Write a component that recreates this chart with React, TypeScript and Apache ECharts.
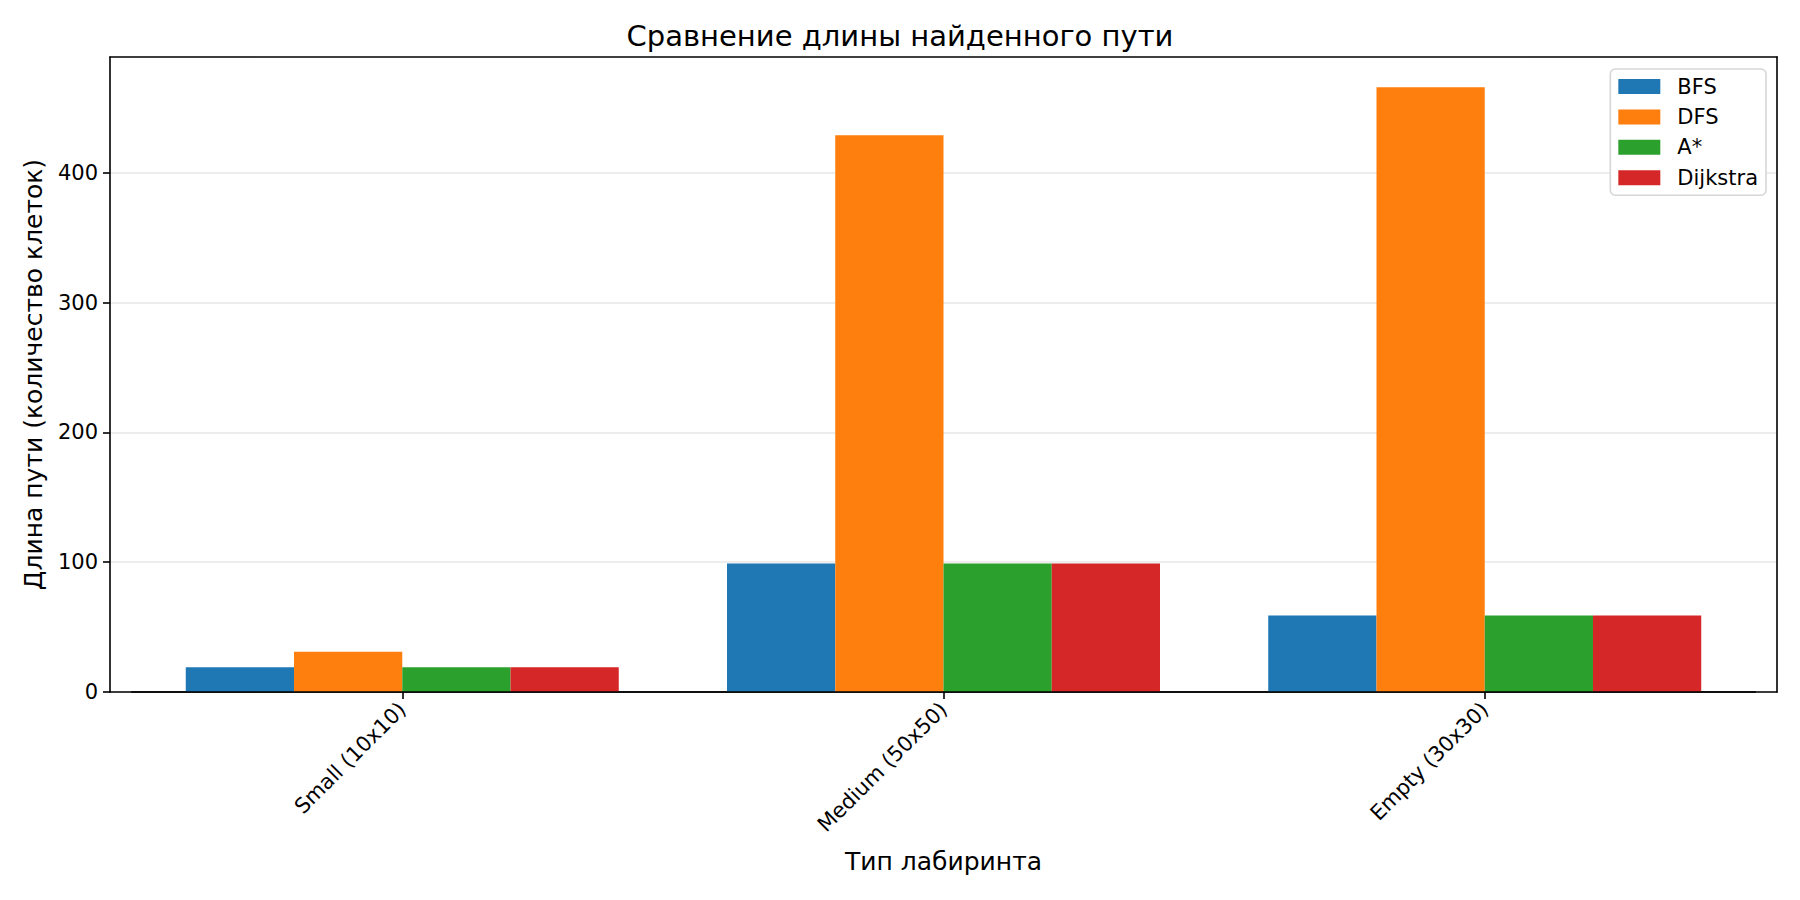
import React, { useEffect, useRef } from "react";
import * as echarts from "echarts";

const categories = ["Small (10x10)", "Medium (50x50)", "Empty (30x30)"];
const seriesNames = ["BFS", "DFS", "A*", "Dijkstra"];
const bfsValues = [19, 99, 59];
const dfsValues = [31, 429, 466];
const astarValues = [19, 99, 59];
const dijkstraValues = [19, 99, 59];
const colors = ["#1f77b4", "#ff7f0e", "#2ca02c", "#d62728"];
const yMax = 489.3;
const yTickMax = 400;

const FONT = "DejaVu Sans";

export default function App() {
  const ref = useRef<HTMLDivElement>(null);
  useEffect(() => {
    if (!ref.current) return;
    const chart = echarts.init(ref.current, null, { renderer: "svg" });
    const frameLeft = 110;
    const frameTop = 57;
    const frameW = 1667;
    const frameH = 635;
    const frameBottom = frameTop + frameH;
    const unit = frameW / 3.08;
    const innerLeft = frameLeft + 0.04 * unit;
    const innerW = 3 * unit;
    const tickH = (frameH * yTickMax) / yMax;
    const allValues = [bfsValues, dfsValues, astarValues, dijkstraValues];
    const frameLine = { show: true, onZero: false, lineStyle: { color: "#000", width: 1.6 } };
    const hidden = { show: false };
    const frameX = (position: string) => ({
      gridIndex: 0,
      type: "value",
      min: 0,
      max: 1,
      position,
      z: 5,
      axisLine: frameLine,
      axisTick: hidden,
      axisLabel: hidden,
      splitLine: hidden,
    });
    chart.setOption({
      animation: false,
      backgroundColor: "#fff",
      title: {
        text: "Сравнение длины найденного пути",
        left: "center",
        top: 16,
        textStyle: { fontFamily: FONT, fontSize: 29, fontWeight: "normal", color: "#000" },
      },
      legend: {
        orient: "vertical",
        right: 34,
        top: 69,
        itemWidth: 42,
        itemHeight: 15,
        itemGap: 9.4,
        padding: [7, 8, 7, 8],
        backgroundColor: "#fff",
        borderColor: "#d6d6d6",
        borderWidth: 1.6,
        borderRadius: 5,
        icon: "rect",
        z: 10,
        textStyle: { fontFamily: FONT, fontSize: 21, color: "#000", lineHeight: 21, padding: [0, 0, 0, 12] },
        data: seriesNames,
      },
      grid: [
        { left: frameLeft, top: frameTop, width: frameW, height: frameH },
        { left: innerLeft, top: frameTop, width: innerW, height: frameH },
        { left: frameLeft, top: frameBottom - tickH, width: frameW, height: tickH },
      ],
      xAxis: [
        frameX("bottom"),
        frameX("top"),
        {
          gridIndex: 1,
          type: "category",
          data: categories,
          axisLine: { show: true, onZero: false, lineStyle: { color: "#000", width: 1.6 } },
          axisTick: { show: true, alignWithLabel: true, length: 7, lineStyle: { color: "#000", width: 1.6 } },
          axisLabel: {
            rotate: 45,
            margin: 14,
            fontFamily: FONT,
            fontSize: 21,
            color: "#000",
          },
          name: "Тип лабиринта",
          nameLocation: "middle",
          nameGap: 157,
          nameTextStyle: { fontFamily: FONT, fontSize: 25, color: "#000" },
          splitLine: hidden,
        },
        { gridIndex: 2, type: "value", min: 0, max: 1, show: false },
      ],
      yAxis: [
        {
          gridIndex: 0,
          type: "value",
          min: 0,
          max: 1,
          position: "left",
          z: 5,
          axisLine: frameLine,
          axisTick: hidden,
          axisLabel: hidden,
          splitLine: hidden,
          name: "Длина пути (количество клеток)",
          nameLocation: "middle",
          nameGap: 64,
          nameTextStyle: { fontFamily: FONT, fontSize: 25, color: "#000" },
        },
        {
          gridIndex: 0,
          type: "value",
          min: 0,
          max: 1,
          position: "right",
          z: 5,
          axisLine: frameLine,
          axisTick: hidden,
          axisLabel: hidden,
          splitLine: hidden,
        },
        {
          gridIndex: 1,
          type: "value",
          min: 0,
          max: yMax,
          show: false,
          splitLine: hidden,
        },
        {
          gridIndex: 2,
          type: "value",
          min: 0,
          max: yTickMax,
          interval: 100,
          position: "left",
          axisLine: { show: false, onZero: false },
          axisTick: { show: true, length: 7, lineStyle: { color: "#000", width: 1.6 } },
          axisLabel: { margin: 12, fontFamily: FONT, fontSize: 21, color: "#000" },
          splitLine: { show: true, lineStyle: { color: "#e7e7e7", width: 1.6 } },
        },
      ],
      series: seriesNames.map((name, i) => ({
        name,
        type: "bar",
        xAxisIndex: 2,
        yAxisIndex: 2,
        data: allValues[i],
        barWidth: "20%",
        barGap: "0%",
        itemStyle: { color: colors[i] },
      })),
    });
    return () => chart.dispose();
  }, []);
  return (
    <div
      ref={ref}
      style={{ position: "fixed", left: 0, top: 0, width: 1800, height: 900 }}
    />
  );
}
